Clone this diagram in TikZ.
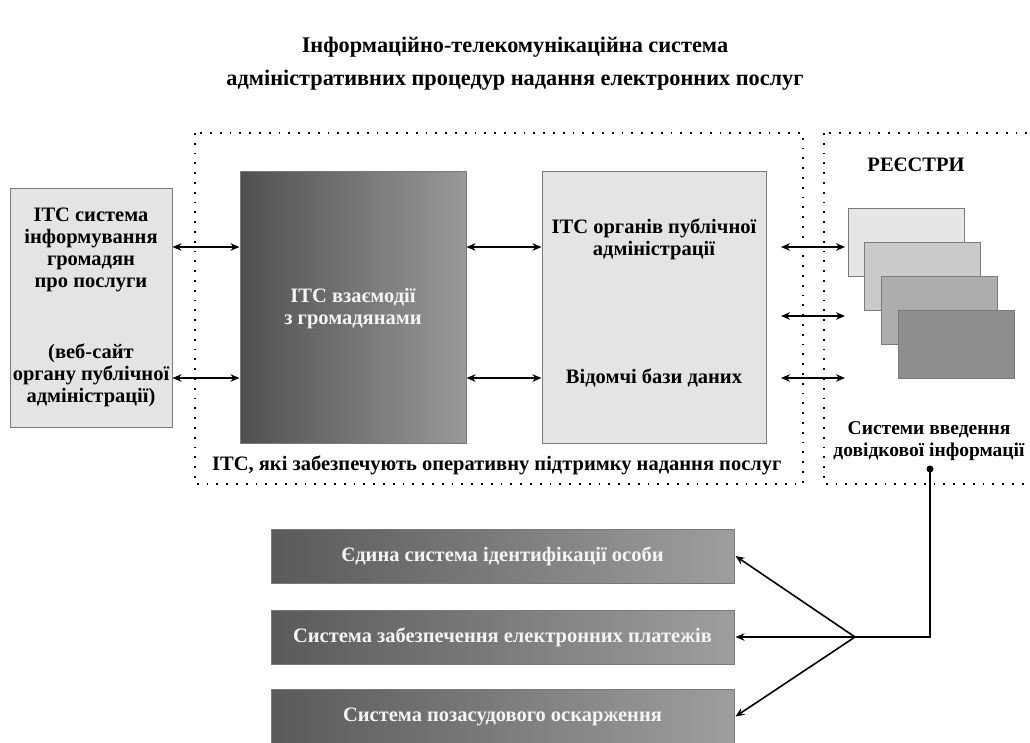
\documentclass[tikz,border=0pt]{standalone}
\usepackage{fontspec}
\setmainfont{Liberation Serif}
\usetikzlibrary{arrows.meta,calc}
\definecolor{lightbox}{HTML}{E4E4E4}
\definecolor{boxedge}{HTML}{7A7A7A}
\definecolor{darkL}{HTML}{505050}
\definecolor{darkR}{HTML}{999999}
\definecolor{barL}{HTML}{5A5A5A}
\definecolor{barR}{HTML}{9E9E9E}
\definecolor{regA}{HTML}{E6E6E6}
\definecolor{regB}{HTML}{CACACA}
\definecolor{regC}{HTML}{ADADAD}
\definecolor{regD}{HTML}{8E8E8E}
\definecolor{softwhite}{HTML}{F4F4F4}
\tikzset{
  lbox/.style={draw=boxedge, line width=1pt, fill=lightbox, minimum width=#1, inner sep=0pt},
  gbox/.style={draw=boxedge, line width=1pt, left color=darkL, right color=darkR, inner sep=0pt},
  bar/.style={draw=boxedge, line width=1pt, left color=barL, right color=barR, minimum width=463pt, minimum height=54pt, inner sep=0pt, font=\fontsize{20.5}{22}\selectfont\bfseries, text=softwhite},
  reg/.style={draw=boxedge, line width=0.8pt, minimum width=116pt, minimum height=68pt, inner sep=0pt},
  txt/.style={align=center, font=\fontsize{20.5}{22}\selectfont\bfseries, inner sep=0pt},
  wtxt/.style={txt, text=softwhite},
  dotline/.style={line width=2pt, dash pattern=on 1.8pt off 8pt},
  arr/.style={line width=1.6pt, {Stealth[length=9pt,width=7.5pt]}-{Stealth[length=9pt,width=7.5pt]}},
  sarr/.style={line width=1.6pt, -{Stealth[length=9pt,width=7.5pt]}},
}
\begin{document}
\begin{tikzpicture}[x=1pt,y=-1pt]
\useasboundingbox (0,0) rectangle (1030,742);
% title
\node[font=\fontsize{22.3}{33}\selectfont\bfseries, align=center] (title) at (515,64)
  {Інформаційно-телекомунікаційна система\\адміністративних процедур надання електронних послуг};
% dotted containers
\coordinate (c1a) at (195,133); \coordinate (c1b) at (803,484);
\coordinate (c2a) at (824,133); \coordinate (c2b) at (1045,484);
\draw[dotline] (c1a) rectangle (c1b);
\draw[dotline] (c2a) rectangle (c2b);
% boxes
\node[lbox=162pt, minimum height=239pt] (lb) at (91,307.5) {};
\node[gbox, minimum width=226pt, minimum height=272pt] (dk) at (353,307) {};
\node[lbox=224pt, minimum height=272pt] (lt) at (654,307) {};
% text in boxes
\node[txt] (lbt1) at (91,250) {ІТС система\\інформування\\громадян\\про послуги};
\node[txt] (lbt2) at (91,375) {(веб-сайт\\органу публічної\\адміністрації)};
\node[wtxt] (dkt) at (353,309) {ІТС взаємодії\\з громадянами};
\node[txt] (ltt1) at (654,239) {ІТС органів публічної\\адміністрації};
\node[txt] (ltt2) at (654,378) {Відомчі бази даних};
\node[txt, anchor=west] (cap1) at (212,465) {ІТС, які забезпечують оперативну підтримку надання послуг};
% registries
\node[txt] (regt) at (916,165) {РЕЄСТРИ};
\node[reg, fill=regA] (r1) at (906,242) {};
\node[reg, fill=regB] (r2) at (922.5,276.5) {};
\node[reg, fill=regC] (r3) at (939,310.5) {};
\node[reg, fill=regD] (r4) at (956.5,344) {};
\node[txt, font=\fontsize{19.5}{22}\selectfont\bfseries] (sys) at (929,441) {Системи введення\\довідкової інформації};
% rows
\coordinate (rowA) at (0,247);
\coordinate (rowB) at (0,316);
\coordinate (rowC) at (0,378);
\coordinate (regL) at (845,0);
\coordinate (ltR) at (781,0);
\draw[arr] (lb.east |- rowA) -- (dk.west |- rowA);
\draw[arr] (lb.east |- rowC) -- (dk.west |- rowC);
\draw[arr] (dk.east |- rowA) -- (lt.west |- rowA);
\draw[arr] (dk.east |- rowC) -- (lt.west |- rowC);
\draw[arr] (ltR |- rowA) -- (regL |- rowA);
\draw[arr] (ltR |- rowB) -- (regL |- rowB);
\draw[arr] (ltR |- rowC) -- (regL |- rowC);
% bottom bars
\node[bar] (b1) at (502.5,556) {Єдина система ідентифікації особи};
\node[bar] (b2) at (502.5,637) {Система забезпечення електронних платежів};
\node[bar] (b3) at (502.5,716.5) {Система позасудового оскарження};
% connector
\coordinate (dot) at (930,469);
\coordinate (br) at (855,637);
\fill (dot) circle (3.5pt);
\draw[line width=1.6pt] (dot) |- (br);
\draw[sarr] (br) -- ([xshift=1pt]b1.east);
\draw[sarr] (br) -- ([xshift=1pt]b2.east);
\draw[sarr] (br) -- ([xshift=1pt]b3.east);
\end{tikzpicture}
\end{document}
